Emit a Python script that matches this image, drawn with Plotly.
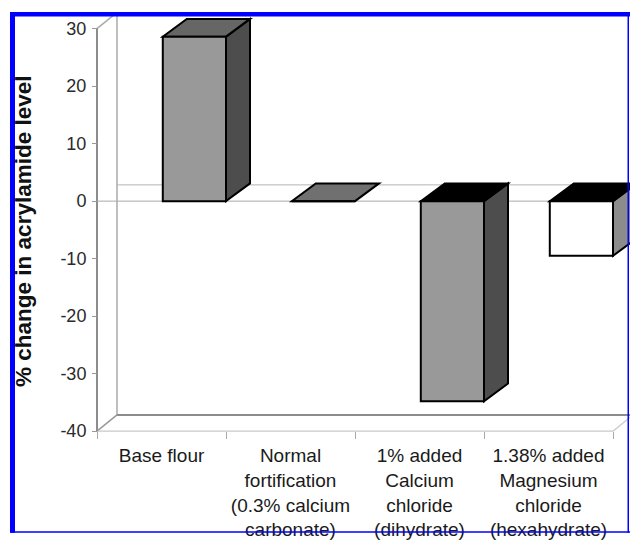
import plotly.graph_objects as go

# ---------------- data ----------------
categories = [
    "Base flour",
    "Normal<br>fortification<br>(0.3% calcium<br>carbonate)",
    "1% added<br>Calcium<br>chloride<br>(dihydrate)",
    "1.38% added<br>Magnesium<br>chloride<br>(hexahydrate)",
]
values = [28.6, 0.0, -34.8, -9.5]
front_colors = ["#999999", "#707070", "#999999", "#ffffff"]
side_colors = ["#4d4d4d", "#4d4d4d", "#4d4d4d", "#8c8c8c"]
top_colors = ["#666666", "#707070", "#000000", "#000000"]
y_tickvals = [-40, -30, -20, -10, 0, 10, 20, 30]
y_ticktext = ["-40", "-30", "-20", "-10", "0", "10", "20", "30"]
y_title = "% change in acrylamide level"

# ---------------- layout geometry (pixels) ----------------
W, H = 630, 540
PL, PR, PT, PB = 88, 630, 8, 450          # plot area in pixels
X0_PX, PX_PER_CAT = 97, 129.0             # pixel of category boundary -0.5
YB_PX, PX_PER_UNIT = 437, 5.83            # pixel of y = -40
Y_MIN_WALL, Y_MAX_WALL = -40, 30

xmin = -0.5 - (X0_PX - PL) / PX_PER_CAT
xmax = -0.5 + (PR - X0_PX) / PX_PER_CAT
ymax = Y_MIN_WALL + (YB_PX - PT) / PX_PER_UNIT
ymin = Y_MIN_WALL - (PB - YB_PX) / PX_PER_UNIT

# 3-D depth offsets (data units)
WDX, WDY = 20 / PX_PER_CAT, 16.5 / PX_PER_UNIT   # walls
BDX, BDY = 24 / PX_PER_CAT, 18 / PX_PER_UNIT     # bars
BAR_OFFSET, BAR_WIDTH = 0.01, 0.49


def px_x(p):
    return (p - PL) / (PR - PL)


def px_y(p):
    return (PB - p) / (PB - PT)


def poly(pts):
    return "M " + " L ".join(f"{x},{y}" for x, y in pts) + " Z"


def seg(x0, y0, x1, y1, color, width):
    return dict(type="line", xref="x", yref="y", x0=x0, y0=y0, x1=x1, y1=y1,
                line=dict(color=color, width=width), layer="below")


shapes = []
left, right = -0.5, len(categories) - 0.5
# back wall / side wall / floor outline
shapes.append(seg(left + WDX, Y_MIN_WALL + WDY, left + WDX, Y_MAX_WALL + WDY, "#aaaaaa", 1.5))
shapes.append(seg(left, Y_MAX_WALL, left + WDX, Y_MAX_WALL + WDY, "#aaaaaa", 1.5))
shapes.append(seg(left, Y_MIN_WALL, left + WDX, Y_MIN_WALL + WDY, "#999999", 1.5))
shapes.append(seg(left + WDX, Y_MIN_WALL + WDY, right + WDX, Y_MIN_WALL + WDY, "#8c8c8c", 2))
shapes.append(seg(left, Y_MIN_WALL, right, Y_MIN_WALL, "#c8c8c8", 1.2))
shapes.append(seg(right, Y_MIN_WALL, right + WDX, Y_MIN_WALL + WDY, "#c8c8c8", 1.2))
shapes.append(seg(left, Y_MIN_WALL, left, Y_MAX_WALL, "#8c8c8c", 2))
# zero plane
shapes.append(seg(left, 0, right, 0, "#aaaaaa", 1))
shapes.append(seg(left + WDX, WDY, right + WDX, WDY, "#b4b4b4", 1))

# bar side and top faces computed from values
for i, v in enumerate(values):
    x0 = i + BAR_OFFSET
    x1 = x0 + BAR_WIDTH
    line = dict(color="#000000", width=2)
    if v != 0:
        shapes.append(dict(type="path", xref="x", yref="y", layer="below",
                           path=poly([(x1, 0), (x1, v), (x1 + BDX, v + BDY), (x1 + BDX, BDY)]),
                           fillcolor=side_colors[i], line=line))
    top_y = max(v, 0)
    shapes.append(dict(type="path", xref="x", yref="y", layer="below",
                       path=poly([(x0, top_y), (x1, top_y), (x1 + BDX, top_y + BDY), (x0 + BDX, top_y + BDY)]),
                       fillcolor=top_colors[i], line=line))

# blue frame
BLUE = "#0000ff"
for (a, b, c, d) in [(10, 12, 630, 16.5), (10, 12, 15, 540), (627.5, 12, 629, 540), (10, 538.5, 630, 540)]:
    shapes.append(dict(type="rect", xref="paper", yref="paper", layer="above",
                       x0=px_x(a), x1=px_x(c), y0=px_y(d), y1=px_y(b),
                       fillcolor=BLUE, line=dict(width=0)))

fig = go.Figure()
fig.add_trace(go.Bar(
    x=categories, y=values, offset=BAR_OFFSET, width=BAR_WIDTH,
    marker=dict(color=front_colors, line=dict(color="#000000", width=2)),
    hoverinfo="skip", showlegend=False,
))

FONT = "Arial, Liberation Sans, sans-serif"
fig.update_layout(
    width=W, height=H,
    margin=dict(l=PL, r=W - PR, t=PT, b=H - PB, pad=0),
    paper_bgcolor="white", plot_bgcolor="white",
    showlegend=False,
    shapes=shapes,
    xaxis=dict(type="category", range=[xmin, xmax], anchor="free",
               position=px_y(YB_PX), showgrid=False, zeroline=False, showline=False,
               ticks="outside", ticklen=7, tickcolor="#aaaaaa", tickwidth=1,
               tickson="boundaries", tickangle=0, ticklabelstandoff=11,
               tickfont=dict(family=FONT, size=19, color="#1a1a1a")),
    yaxis=dict(range=[ymin, ymax], anchor="free", position=px_x(X0_PX),
               tickvals=y_tickvals, ticktext=y_ticktext,
               showgrid=False, zeroline=False, showline=False,
               ticks="outside", ticklen=5, tickcolor="#999999", tickwidth=1,
               ticklabelstandoff=2,
               tickfont=dict(family=FONT, size=18, color="#2a2a2a")),
    annotations=[dict(text=f"<b>{y_title}</b>", textangle=-90, showarrow=False,
                      xref="paper", yref="paper", x=px_x(24), y=px_y(235),
                      xanchor="center", yanchor="middle",
                      font=dict(family=FONT, size=22.5, color="#111111"))],
)

fig.write_html("out.html")
